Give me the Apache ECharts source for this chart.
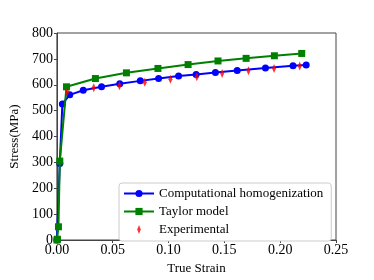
<!DOCTYPE html>
<html><head><meta charset="utf-8">
<script src="https://cdn.jsdelivr.net/npm/echarts@6/dist/echarts.min.js"></script>
<style>html,body{margin:0;padding:0;background:#fff}#c{width:374px;height:280px}</style>
</head><body><div id="c"></div>
<script>
const compStrain = [0, 0.0026, 0.0049, 0.0115, 0.0236, 0.040, 0.0563, 0.0747, 0.0911, 0.109, 0.1247, 0.142, 0.1615, 0.1868, 0.2115, 0.2233];
const compStress = [0, 296, 526, 561, 579, 592, 604, 615, 624, 634, 640, 647, 655, 665, 673, 676];
const taylorStrain = [0, 0.0005, 0.0014, 0.0026, 0.0086, 0.0345, 0.0623, 0.0905, 0.1175, 0.1443, 0.1695, 0.1948, 0.2193];
const taylorStress = [0, 3, 51, 305, 592, 624, 646, 663, 678, 692, 702, 712, 721];
const expStrain = [0.0092, 0.033, 0.056, 0.0787, 0.1017, 0.1253, 0.148, 0.1716, 0.1945, 0.2175];
const expStress = [572, 588, 596, 610, 621, 631, 643, 654, 663, 672];
const xTicks = [0, 0.05, 0.10, 0.15, 0.20, 0.25];
const yTicks = [0, 100, 200, 300, 400, 500, 600, 700, 800];

const zip = (a, b) => a.map((v, i) => [v, b[i]]);
const font = 'Liberation Serif';
const chart = echarts.init(document.getElementById('c'));
chart.setOption({
  animation: false,
  textStyle: { fontFamily: font },
  grid: { left: 46, right: 38, top: 33, bottom: 32, show: true, borderColor: '#444', borderWidth: 1 },
  xAxis: {
    type: 'value', min: xTicks[0], max: xTicks[xTicks.length - 1], interval: 0.05,
    name: 'True Strain', nameLocation: 'middle', nameGap: 22,
    nameTextStyle: { fontFamily: font, fontSize: 13, color: '#000' },
    axisLine: { lineStyle: { color: '#444' } },
    axisTick: { show: true, length: 3, lineStyle: { color: '#444' } },
    axisLabel: { fontFamily: font, fontSize: 14, color: '#000', margin: 3, formatter: v => v.toFixed(2) },
    splitLine: { show: false }
  },
  yAxis: {
    type: 'value', min: yTicks[0], max: yTicks[yTicks.length - 1], interval: 100,
    name: 'Stress(MPa)', nameLocation: 'middle', nameGap: 32,
    nameTextStyle: { fontFamily: font, fontSize: 13, color: '#000' },
    axisLine: { show: true, lineStyle: { color: '#444' } },
    axisTick: { show: true, length: 3, lineStyle: { color: '#444' } },
    axisLabel: { fontFamily: font, fontSize: 14, color: '#000', margin: 4 },
    splitLine: { show: false }
  },
  legend: {
    orient: 'vertical', left: 119, top: 183,
    backgroundColor: '#fff', borderColor: '#ccc', borderWidth: 1, borderRadius: 3,
    padding: [4, 8, 5, 4], itemGap: 5, itemWidth: 30, itemHeight: 9,
    textStyle: { fontFamily: font, fontSize: 13, color: '#000' },
    data: [
      { name: 'Computational homogenization' },
      { name: 'Taylor model' },
      { name: 'Experimental', icon: 'path://M0,-5L2,0L0,5L-2,0Z' }
    ]
  },
  series: [
    { name: 'Computational homogenization', type: 'line', data: zip(compStrain, compStress),
      color: '#0000ff', symbol: 'circle', symbolSize: 7, lineStyle: { width: 2 }, z: 2 },
    { name: 'Taylor model', type: 'line', data: zip(taylorStrain, taylorStress),
      color: '#008000', symbol: 'rect', symbolSize: 7, lineStyle: { width: 2 }, z: 3 },
    { name: 'Experimental', type: 'scatter', data: zip(expStrain, expStress),
      color: '#ff0000', symbol: 'diamond', symbolSize: [4, 9], z: 4 }
  ]
});
</script></body></html>
